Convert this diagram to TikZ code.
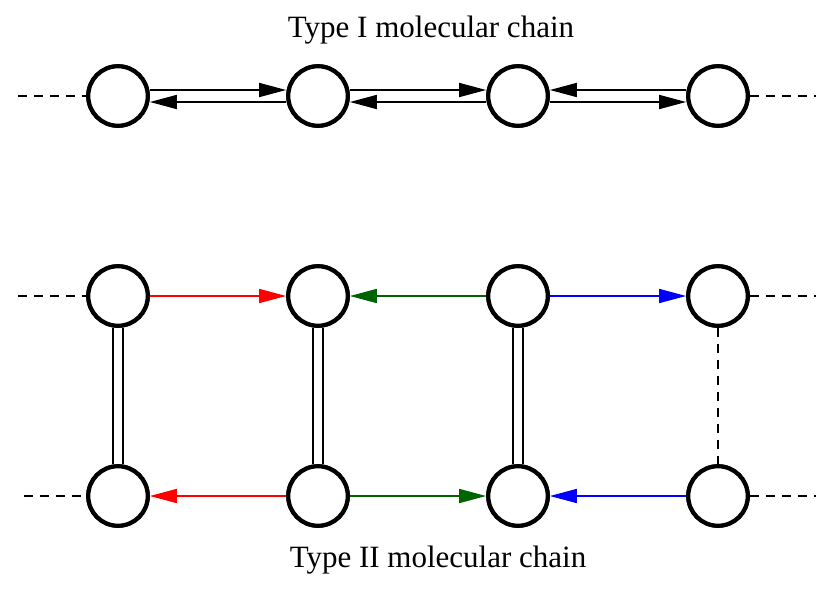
\documentclass[tikz,border=0pt]{standalone}
\usepackage{fontspec}
\setmainfont{Liberation Serif}
\usetikzlibrary{arrows.meta}
\definecolor{dgreen}{RGB}{0,100,0}
\begin{document}
\begin{tikzpicture}[x=1pt,y=-1pt,
  mol/.style={circle,draw=black,line width=4.2pt,minimum size=59.5pt,inner sep=0pt,fill=white},
  bond/.style={line width=1.6pt,-{Triangle[length=27pt,width=14pt]}},
  dsh/.style={line width=2pt,dash pattern=on 9pt off 7pt},
  dbl/.style={line width=1.6pt},
  lbl/.style={font=\fontsize{31}{36}\selectfont,anchor=base}]
\useasboundingbox (0,0) rectangle (836,592);
% titles
\node[lbl] (t1) at (431,37) {Type I molecular chain};
\node[lbl] (t2) at (438,567) {Type II molecular chain};
% top row
\node[mol] (a) at (118,96) {};
\node[mol] (b) at (318,96) {};
\node[mol] (c) at (518,96) {};
\node[mol] (d) at (718,96) {};
% middle row
\node[mol] (a1) at (118,296) {};
\node[mol] (b1) at (318,296) {};
\node[mol] (c1) at (518,296) {};
\node[mol] (d1) at (718,296) {};
% bottom row
\node[mol] (a2) at (118,496) {};
\node[mol] (b2) at (318,496) {};
\node[mol] (c2) at (518,496) {};
\node[mol] (d2) at (718,496) {};
% free ends of dashed lines
\coordinate (la) at (18,96);
\coordinate (ra) at (816,96);
\coordinate (la1) at (18,296);
\coordinate (ra1) at (816,296);
\coordinate (la2) at (24,496);
\coordinate (ra2) at (816,496);
\draw[dsh] (la) -- (a);
\draw[dsh] (d) -- (ra);
\draw[dsh] (la1) -- (a1);
\draw[dsh] (d1) -- (ra1);
\draw[dsh] (la2) -- (a2);
\draw[dsh] (d2) -- (ra2);
\draw[dsh] (d1) -- (d2);
% top double arrows
\draw[bond] ([yshift=6pt]a.east) -- ([yshift=6pt]b.west);
\draw[bond] ([yshift=-6pt]b.west) -- ([yshift=-6pt]a.east);
\draw[bond] ([yshift=6pt]b.east) -- ([yshift=6pt]c.west);
\draw[bond] ([yshift=-6pt]c.west) -- ([yshift=-6pt]b.east);
\draw[bond] ([yshift=6pt]d.west) -- ([yshift=6pt]c.east);
\draw[bond] ([yshift=-6pt]c.east) -- ([yshift=-6pt]d.west);
% type II arrows
\draw[bond,red] (a1) -- (b1);
\draw[bond,dgreen] (c1) -- (b1);
\draw[bond,blue] (c1) -- (d1);
\draw[bond,red] (b2) -- (a2);
\draw[bond,dgreen] (b2) -- (c2);
\draw[bond,blue] (d2) -- (c2);
% double vertical bonds
\foreach \u/\v in {a1/a2,b1/b2,c1/c2}{
  \draw[dbl] ([xshift=-5pt]\u.south) -- ([xshift=-5pt]\v.north);
  \draw[dbl] ([xshift=5pt]\u.south) -- ([xshift=5pt]\v.north);
}
% redraw circles on top
\foreach \n in {a,b,c,d,a1,b1,c1,d1,a2,b2,c2,d2}{
  \node[mol] at (\n) {};
}
\end{tikzpicture}
\end{document}
